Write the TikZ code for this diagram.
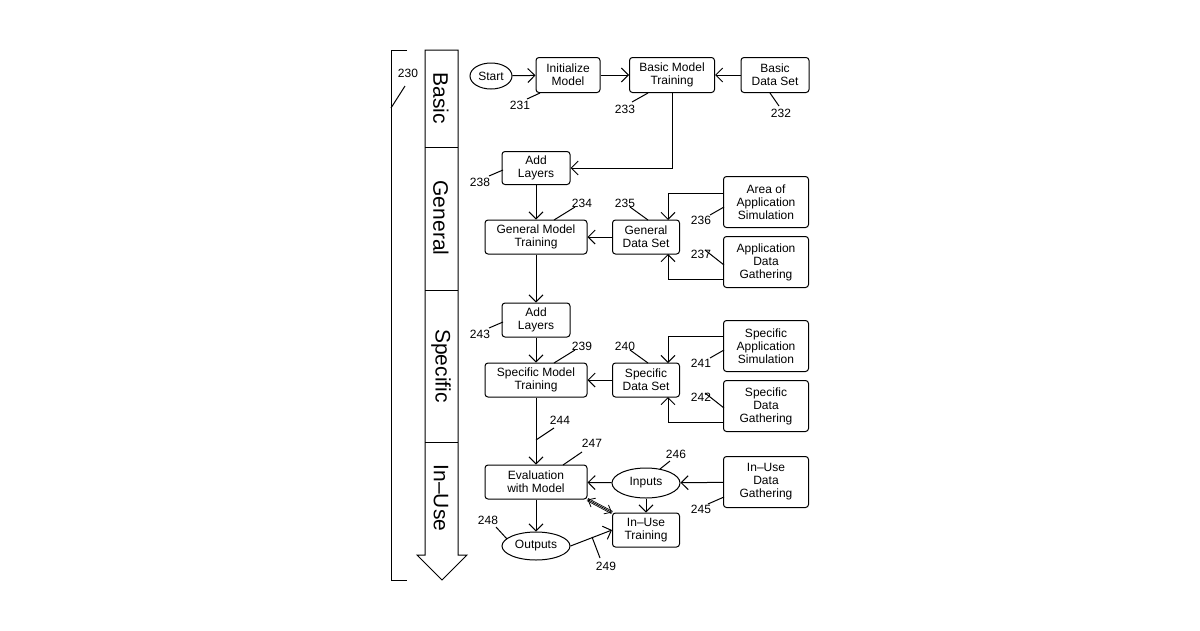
\documentclass[tikz,border=0pt]{standalone}
\usepackage{fontspec}
\setmainfont{Liberation Sans}
\usetikzlibrary{arrows.meta,shapes.geometric}
\begin{document}
\begin{tikzpicture}[x=1pt,y=-1pt,line width=1pt,
  every node/.style={font=\fontsize{12}{13}\selectfont},
  box/.style={draw,rounded corners=3pt,align=center,inner sep=0pt},
  ell/.style={draw,ellipse,inner sep=0pt},
  arr/.style={-{Straight Barb[length=7pt,width=14pt]}},
  lbl/.style={inner sep=0pt},
  band/.style={font=\fontsize{21}{22}\selectfont,rotate=-90}]
\useasboundingbox (0,0) rectangle (1200,630);
% boxes
\node[ell,minimum width=42,minimum height=26] (start) at (491,76) {Start};
\node[box,minimum width=64,minimum height=35] (init) at (568,75) {Initialize\\Model};
\node[box,minimum width=85,minimum height=35] (bmt) at (672,75) {Basic Model\\Training};
\node[box,minimum width=68,minimum height=35] (bds) at (775,75) {Basic\\Data Set};
\node[box,minimum width=68,minimum height=33] (al1) at (536,168) {Add\\Layers};
\node[box,minimum width=102,minimum height=34] (gmt) at (536,237) {General Model\\Training};
\node[box,minimum width=67,minimum height=34] (gds) at (646,237) {General\\Data Set};
\node[box,minimum width=85,minimum height=51] (aas) at (766,202) {Area of\\Application\\Simulation};
\node[box,minimum width=85,minimum height=51] (adg) at (766,262) {Application\\Data\\Gathering};
\node[box,minimum width=68,minimum height=34] (al2) at (536,320) {Add\\Layers};
\node[box,minimum width=102,minimum height=34] (smt) at (536,380) {Specific Model\\Training};
\node[box,minimum width=67,minimum height=34] (sds) at (646,380) {Specific\\Data Set};
\node[box,minimum width=85,minimum height=51] (sas) at (766,346) {Specific\\Application\\Simulation};
\node[box,minimum width=85,minimum height=51] (sdg) at (766,406) {Specific\\Data\\Gathering};
\node[box,minimum width=102,minimum height=34] (eval) at (536,482) {Evaluation\\with Model};
\node[ell,minimum width=68,minimum height=30] (inp) at (646,483) {Inputs};
\node[box,minimum width=85,minimum height=51] (iudg) at (766,482) {In--Use\\Data\\Gathering};
\node[box,minimum width=67,minimum height=34] (iut) at (646,530) {In--Use\\Training};
\node[ell,minimum width=68,minimum height=28] (out) at (536,546) {Outputs};
% connectors
\draw[arr] (start) -- (init);
\draw[arr] (init) -- (bmt);
\draw[arr] (bds) -- (bmt);
\draw[arr] (bmt.south) |- (al1.east);
\draw[arr] (al1) -- (gmt);
\draw[arr] (gds) -- (gmt);
\draw[arr] (aas.west |- 0,193) -| (668,220);
\draw[arr] (adg.west |- 0,279) -| (668,254);
\draw[arr] (gmt) -- (al2);
\draw[arr] (al2) -- (smt);
\draw[arr] (sds) -- (smt);
\draw[arr] (sas.west |- 0,336) -| (668,363);
\draw[arr] (sdg.west |- 0,422) -| (668,397);
\draw[arr] (smt) -- (eval);
\draw[arr] (inp) -- (eval);
\draw[arr] (iudg) -- (inp);
\draw[arr] (inp) -- (iut);
\draw[arr] (eval) -- (out);
\draw[arr] (out.east) -- (iut.west);
\draw[double,double distance=1.6pt,line width=0.8pt] (eval.south east) -- (iut.north west);
\draw[line width=0.8pt,{Straight Barb[length=6pt,width=10pt]}-{Straight Barb[length=6pt,width=10pt]}] (eval.south east) -- (iut.north west);
% reference labels
\node[lbl] (l231) at (520,105) {231}; \draw (527,99) -- (540,93);
\node[lbl] (l233) at (625,109) {233}; \draw (632,102) -- (648,93);
\node[lbl] (l232) at (781,113) {232}; \draw (779,106) -- (770,93);
\node[lbl] (l238) at (480,182) {238}; \draw (489,176) -- (503,170);
\node[lbl] (l234) at (582,203) {234}; \draw (575,207) -- (554,220);
\node[lbl] (l235) at (625,203) {235}; \draw (630,207) -- (648,220);
\node[lbl] (l236) at (701,220) {236}; \draw (710,215) -- (724,207);
\node[lbl] (l237) at (701,254) {237}; \draw (705,250) -- (724,265);
\node[lbl] (l243) at (480,334) {243}; \draw (489,328) -- (503,322);
\node[lbl] (l239) at (582,346) {239}; \draw (575,350) -- (554,363);
\node[lbl] (l240) at (625,346) {240}; \draw (630,350) -- (648,363);
\node[lbl] (l241) at (701,363) {241}; \draw (710,358) -- (724,350);
\node[lbl] (l242) at (701,397) {242}; \draw (705,393) -- (724,408);
\node[lbl] (l244) at (560,420) {244}; \draw (554,428) -- (536,440);
\node[lbl] (l247) at (592,443) {247}; \draw (582,452) -- (563,465);
\node[lbl] (l246) at (676,454) {246}; \draw (670,461) -- (660,469);
\node[lbl] (l245) at (701,509) {245}; \draw (708,504) -- (724,497);
\node[lbl] (l248) at (488,520) {248}; \draw (496,527) -- (507,539);
\node[lbl] (l249) at (606,566) {249}; \draw (600,558) -- (592,537);
\node[lbl] (l230) at (408,73) {230}; \draw (405,86) -- (391,108);
% left band
\draw (458,50) -- (458,555) -- (467,555) -- (442,580) -- (417,555) -- (425,555) -- (425,50) -- cycle;
\draw (425,147) -- (458,147) (425,290) -- (458,290) (425,442) -- (458,442);
\node[band] at (441,98) {Basic};
\node[band] at (441,218) {General};
\node[band] at (441,366) {Specific};
\node[band] at (441,498) {In--Use};
\draw (407,50) -- (391,50) -- (391,580) -- (407,580);
\end{tikzpicture}
\end{document}
